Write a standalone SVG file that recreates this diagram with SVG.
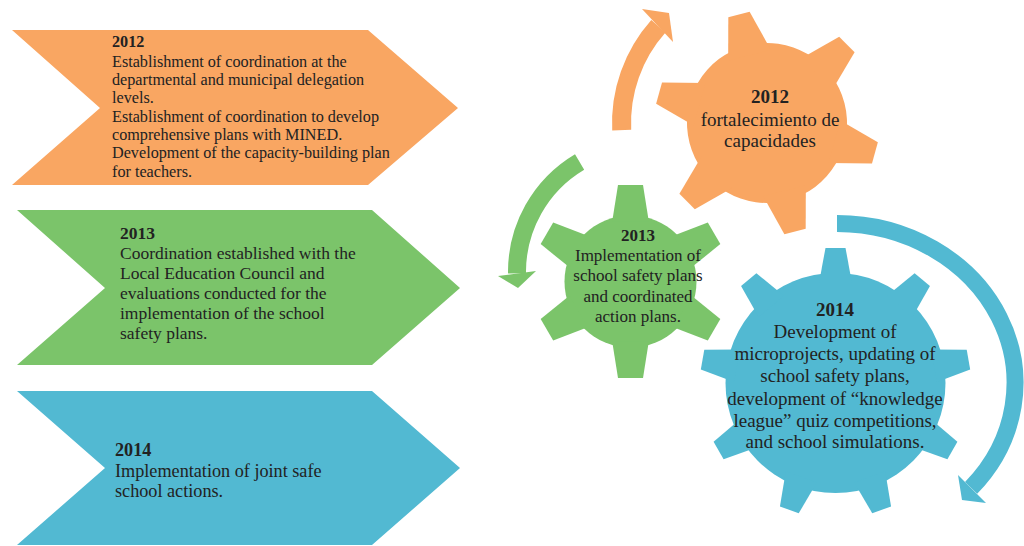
<svg xmlns="http://www.w3.org/2000/svg" xmlns:xlink="http://www.w3.org/1999/xlink" width="1024" height="546" viewBox="0 0 1024 546">
<style>
.t{font-family:"Liberation Serif","Times New Roman",serif;fill:#222;}
.b{font-weight:bold;}
.or{fill:#F9A662;}
.gr{fill:#7BC46A;}
.bl{fill:#52B9D2;}
.c{text-anchor:middle;}
</style>
<defs>
<polygon id="toothO" points="-11,-112 11,-112 22,-70 -22,-70"/>
<polygon id="toothG" points="-12.5,-96.5 12.5,-96.5 18.3,-60 -18.3,-60"/>
<polygon id="toothB" points="-10,-135 10,-135 16.5,-100 -16.5,-100"/>
</defs>
<rect width="1024" height="546" fill="#fff"/>

<g id="chevron-2012">
<polygon class="or" points="12,30 368,30 458,108 368,185 12,185 100,108"/>
<text class="t" font-size="16.2" x="112"><tspan class="b" y="47">2012</tspan><tspan x="112" y="66.7">Establishment of coordination at the</tspan><tspan x="112" y="85">departmental and municipal delegation</tspan><tspan x="112" y="103.3">levels.</tspan><tspan x="112" y="121.7">Establishment of coordination to develop</tspan><tspan x="112" y="140">comprehensive plans with MINED.</tspan><tspan x="112" y="158.3">Development of the capacity-building plan</tspan><tspan x="112" y="176.7">for teachers.</tspan></text>
</g>

<g id="chevron-2013">
<polygon class="gr" points="17,210 372,210 460,288 372,365 17,365 105,288"/>
<text class="t" font-size="17.5" x="120"><tspan class="b" y="239">2013</tspan><tspan x="120" y="258.5">Coordination established with the</tspan><tspan x="120" y="279">Local Education Council and</tspan><tspan x="120" y="299">evaluations conducted for the</tspan><tspan x="120" y="319">implementation of the school</tspan><tspan x="120" y="338.5">safety plans.</tspan></text>
</g>

<g id="chevron-2014">
<polygon class="bl" points="17,391 372,391 460,468 372,545 17,545 105,468"/>
<text class="t" font-size="18.2" x="115"><tspan class="b" y="456">2014</tspan><tspan x="115" y="476.7">Implementation of joint safe</tspan><tspan x="115" y="496.7">school actions.</tspan></text>
</g>

<g id="connectors">
<path d="M621.7,130.1 A145.5,145.5 0 0 1 658.4,26.2" fill="none" stroke="#F9A662" stroke-width="19"/>
<polygon class="or" points="642,9 673,42 669,13"/>
<path d="M579.6,161.9 A128,128 0 0 0 517,273.3" fill="none" stroke="#7BC46A" stroke-width="18"/>
<polygon class="gr" points="498,276 536,271 518,288"/>
<path d="M837,223.5 A178,159.5 0 0 1 971.1,487.9" fill="none" stroke="#52B9D2" stroke-width="17"/>
<polygon class="bl" points="958,475 986,503 962,500"/>
</g>

<g id="gear-2012" class="or">
<g transform="translate(767,123) rotate(-14.5)">
<circle r="80"/>
<use xlink:href="#toothO"/>
<use xlink:href="#toothO" transform="rotate(60)"/>
<use xlink:href="#toothO" transform="rotate(120)"/>
<use xlink:href="#toothO" transform="rotate(180)"/>
<use xlink:href="#toothO" transform="rotate(240)"/>
<use xlink:href="#toothO" transform="rotate(300)"/>
</g>
<text class="t c" font-size="19" x="770"><tspan class="b" x="770" y="103">2012</tspan><tspan x="770" y="125.5">fortalecimiento de</tspan><tspan x="770" y="147">capacidades</tspan></text>
</g>

<g id="gear-2013" class="gr">
<g transform="translate(630.5,281.5)">
<circle r="66"/>
<use xlink:href="#toothG"/>
<use xlink:href="#toothG" transform="rotate(60)"/>
<use xlink:href="#toothG" transform="rotate(120)"/>
<use xlink:href="#toothG" transform="rotate(180)"/>
<use xlink:href="#toothG" transform="rotate(240)"/>
<use xlink:href="#toothG" transform="rotate(300)"/>
</g>
<text class="t c" font-size="17"><tspan class="b" x="638" y="240.7">2013</tspan><tspan x="638" y="261">Implementation of</tspan><tspan x="638" y="281">school safety plans</tspan><tspan x="638" y="301.7">and coordinated</tspan><tspan x="638" y="321.7">action plans.</tspan></text>
</g>

<g id="gear-2014" class="bl">
<g transform="translate(835.5,383)">
<circle r="110"/>
<use xlink:href="#toothB"/>
<use xlink:href="#toothB" transform="rotate(40)"/>
<use xlink:href="#toothB" transform="rotate(80)"/>
<use xlink:href="#toothB" transform="rotate(120)"/>
<use xlink:href="#toothB" transform="rotate(160)"/>
<use xlink:href="#toothB" transform="rotate(200)"/>
<use xlink:href="#toothB" transform="rotate(240)"/>
<use xlink:href="#toothB" transform="rotate(280)"/>
<use xlink:href="#toothB" transform="rotate(320)"/>
</g>
<text class="t c" font-size="19"><tspan class="b" x="835" y="316">2014</tspan><tspan x="835" y="338.3">Development of</tspan><tspan x="835" y="360">microprojects, updating of</tspan><tspan x="835" y="382.3">school safety plans,</tspan><tspan x="835" y="405">development of “knowledge</tspan><tspan x="835" y="426.7">league” quiz competitions,</tspan><tspan x="835" y="448.3">and school simulations.</tspan></text>
</g>
</svg>
